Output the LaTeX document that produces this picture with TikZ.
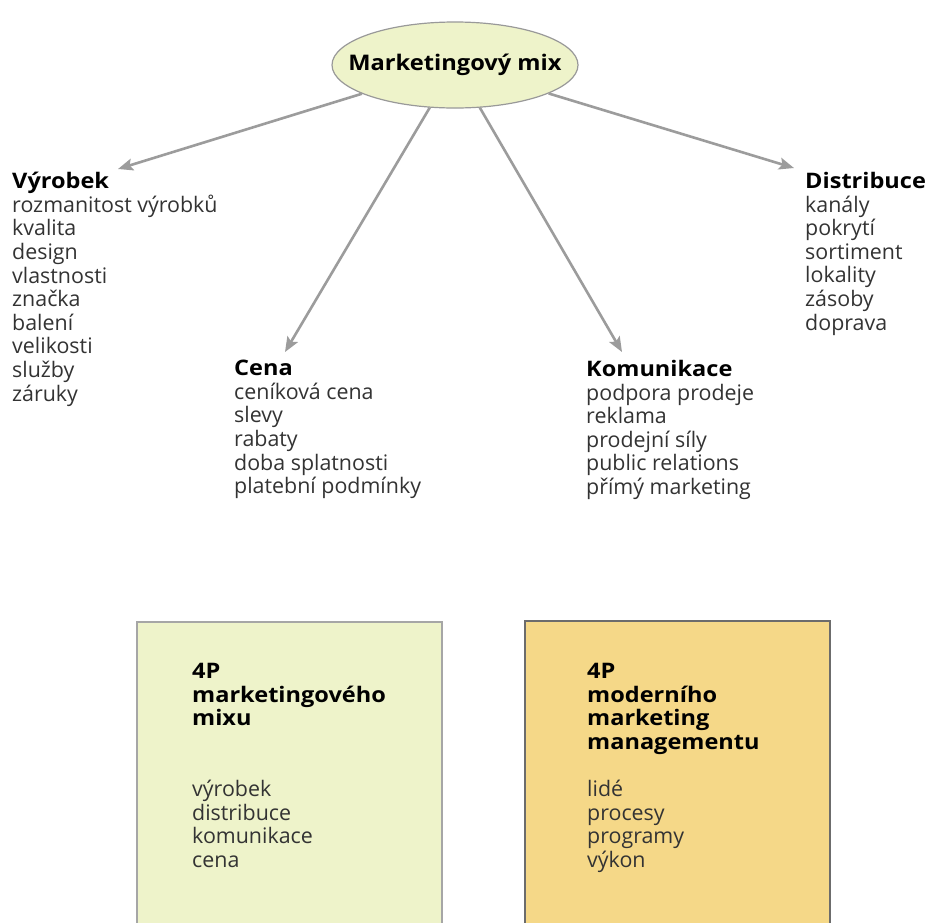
\documentclass[tikz,border=0pt]{standalone}
\usepackage{fontspec}
\setmainfont{Open Sans}[BoldFeatures={FakeStretch=1.1}]
\usetikzlibrary{shapes.geometric,arrows.meta}
\definecolor{mixgreen}{HTML}{EEF3CA}
\definecolor{mixgold}{HTML}{F5D888}
\definecolor{arrowgray}{HTML}{9C9C9C}
\definecolor{bodytext}{HTML}{333333}
\tikzset{
  hub/.style={ellipse, draw=gray!80, line width=1.2pt, fill=mixgreen,
    minimum width=246pt, minimum height=86pt, inner xsep=-30pt, inner ysep=0pt,
    font=\fontsize{21.5}{23.6}\selectfont\bfseries},
  spoke/.style={draw=arrowgray, line width=2.6pt,
    -{Stealth[length=15pt,width=12pt,inset=3pt]}},
  itemlist/.style={anchor=north west, align=left, inner sep=0pt,
    text=bodytext, font=\fontsize{21.4}{23.6}\selectfont},
  panel/.style={line width=1.2pt}
}
\newcommand{\hd}[1]{{\bfseries\color{black}#1}}
\begin{document}
\begin{tikzpicture}[x=1pt,y=-1pt]
\useasboundingbox[fill=white] (0,0) rectangle (928,922);

% central ellipse
\node[hub] (mix) at (455,65) {Marketingový mix};

% arrow tips
\coordinate (tV) at (118,169);
\coordinate (tC) at (285,352);
\coordinate (tK) at (622,352);
\coordinate (tD) at (794,168);

\draw[spoke] (mix) -- (tV);
\draw[spoke] (mix) -- (tC);
\draw[spoke] (mix) -- (tK);
\draw[spoke] (mix) -- (tD);

% the four P lists
\node[itemlist] (vyrobek) at (12,172) {\hd{Výrobek}\\rozmanitost výrobků\\kvalita\\design\\vlastnosti\\značka\\balení\\velikosti\\služby\\záruky};
\node[itemlist] (cena) at (234,360) {\hd{Cena}\\ceníková cena\\slevy\\rabaty\\doba splatnosti\\platební podmínky};
\node[itemlist] (komunikace) at (586,360) {\hd{Komunikace}\\podpora prodeje\\reklama\\prodejní síly\\public relations\\přímý marketing};
\node[itemlist] (distribuce) at (805,172) {\hd{Distribuce}\\kanály\\pokrytí\\sortiment\\lokality\\zásoby\\doprava};

% comparison panels, open at the bottom edge
\fill[mixgreen] (137,622) rectangle (442,923);
\draw[panel, draw=gray!70] (137,924) -- (137,622) -- (442,622) -- (442,924);
\fill[mixgold] (525,621) rectangle (830,923);
\draw[panel, draw=gray!85!black] (525,924) -- (525,621) -- (830,621) -- (830,924);

\node[itemlist] (left4p) at (192,663) {\hd{4P}\\\hd{marketingového}\\\hd{mixu}\\[47.2pt]výrobek\\distribuce\\komunikace\\cena};
\node[itemlist] (right4p) at (587,663) {\hd{4P}\\\hd{moderního}\\\hd{marketing}\\\hd{managementu}\\[23.6pt]lidé\\procesy\\programy\\výkon};
\end{tikzpicture}
\end{document}
